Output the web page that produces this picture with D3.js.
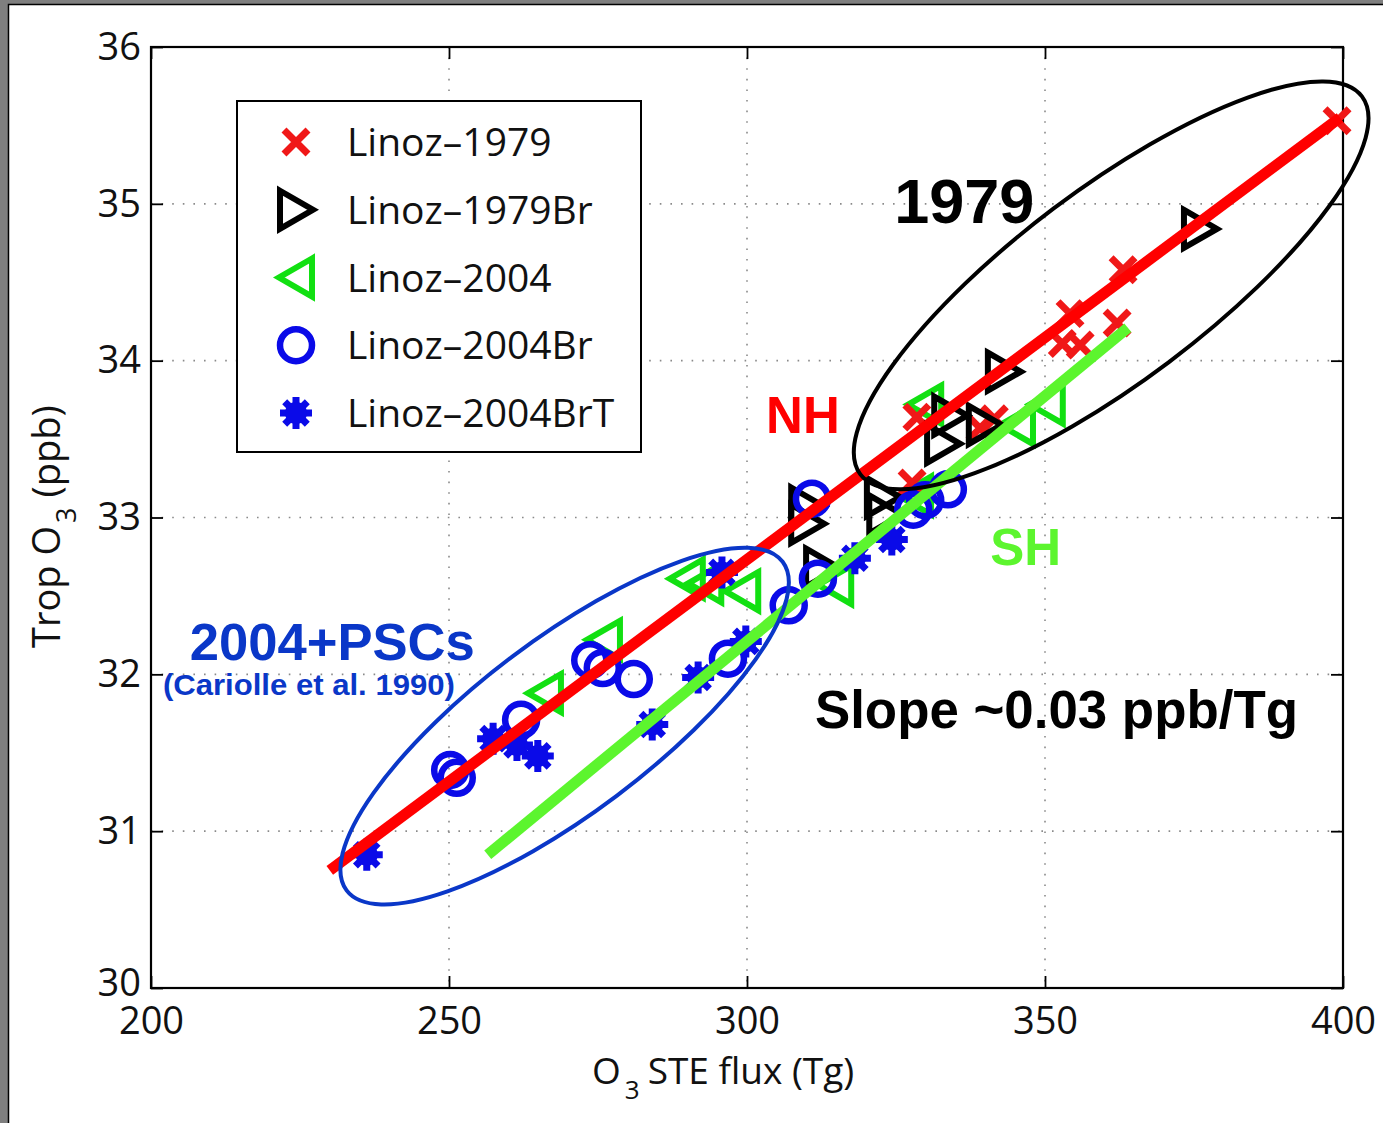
<!DOCTYPE html>
<html>
<head>
<meta charset="utf-8">
<script src="https://cdn.jsdelivr.net/npm/d3@7"></script>
<style>
  body { margin: 0; background: #fff; }
  svg { display: block; }
  .tick-label, .axis-label, .legend-text { font-family: 'Open Sans', sans-serif; fill: #111; }
  .note { font-family: 'Liberation Sans', Arial, sans-serif; font-weight: bold; }
</style>
</head>
<body>
<svg id="chart" width="1383" height="1123"></svg>
<script>
// tick values
var xTicks = [200, 250, 300, 350, 400];
var yTicks = [30, 31, 32, 33, 34, 35, 36];

// series, [STE flux (Tg), trop O3 (ppb)]
var linoz1979 = [[399.0, 35.53], [363.1, 34.58], [354.2, 34.30], [352.9, 34.11], [355.9, 34.10],
  [362.1, 34.24], [328.5, 33.64], [339.1, 33.57], [341.5, 33.63], [327.7, 33.22]];
var linoz1979Br = [[376.0, 34.84], [343.1, 33.93], [339.9, 33.59], [334.1, 33.65], [332.9, 33.47],
  [310.1, 33.07], [310.1, 32.96], [322.8, 33.13], [323.2, 33.02], [312.6, 32.68]];
var linoz2004 = [[289.9, 32.61], [293.0, 32.58], [299.2, 32.53], [276.0, 32.22], [266.1, 31.88],
  [329.9, 33.72], [345.3, 33.59], [350.3, 33.72], [328.2, 33.14], [314.8, 32.57]];
var linoz2004Br = [[250.2, 31.39], [251.3, 31.34], [262.1, 31.71], [273.7, 32.09], [275.8, 32.04],
  [281.0, 31.97], [296.8, 32.10], [307.0, 32.44], [310.9, 33.12], [311.9, 32.61],
  [327.9, 33.05], [333.7, 33.18], [329.9, 33.11]];
var linoz2004BrT = [[236.2, 30.85], [257.4, 31.59], [261.4, 31.55], [264.9, 31.48], [284.1, 31.68],
  [291.8, 31.98], [299.8, 32.21], [295.8, 32.65], [318.1, 32.74], [324.3, 32.86]];

// fitted lines
var nhFit = [[230.0, 30.75], [399.5, 35.55]];
var shFit = [[256.5, 30.85], [363.9, 34.21]];

// ellipse centres
var pscCentre = [269.4, 31.67];
var y1979Centre = [361.1, 34.48];

var seriesNames = ['Linoz\u20131979', 'Linoz\u20131979Br', 'Linoz\u20132004', 'Linoz\u20132004Br', 'Linoz\u20132004BrT'];

var series = [
  { name: seriesNames[2], data: linoz2004, shape: 'triLeft', color: '#12e012' },
  { name: seriesNames[0], data: linoz1979, shape: 'cross', color: '#f01818' },
  { name: seriesNames[1], data: linoz1979Br, shape: 'triRight', color: '#000' },
  { name: seriesNames[3], data: linoz2004Br, shape: 'circle', color: '#0a0ae8' },
  { name: seriesNames[4], data: linoz2004BrT, shape: 'star', color: '#0a0ae8' }
];
var legendOrder = [1, 2, 0, 3, 4];

var svg = d3.select('#chart');
var W = 1383, H = 1123;

// slide frame
svg.append('rect').attr('width', W).attr('height', H).attr('fill', '#7f7f7f');
svg.append('rect').attr('x', 8).attr('y', 4).attr('width', W - 8).attr('height', H - 4).attr('fill', '#fff');
svg.append('path').attr('d', 'M8.5,' + H + 'V4.5H' + W).attr('fill', 'none').attr('stroke', '#000').attr('stroke-width', 1.5);

var x = d3.scaleLinear().domain([200, 400]).range([151, 1343]);
var y = d3.scaleLinear().domain([30, 36]).range([988, 47]);

var plot = svg.append('g');

// dotted grid
plot.selectAll('line.gx').data(xTicks.slice(1, -1)).enter().append('line')
  .attr('class', 'gx')
  .attr('x1', function(d) { return x(d); }).attr('x2', function(d) { return x(d); })
  .attr('y1', y(36)).attr('y2', y(30))
  .attr('stroke', '#8a8a8a').attr('stroke-width', 1.6).attr('stroke-dasharray', '1.6,9');
plot.selectAll('line.gy').data(yTicks.slice(1, -1)).enter().append('line')
  .attr('class', 'gy')
  .attr('y1', function(d) { return y(d); }).attr('y2', function(d) { return y(d); })
  .attr('x1', x(200)).attr('x2', x(400))
  .attr('stroke', '#8a8a8a').attr('stroke-width', 1.6).attr('stroke-dasharray', '1.6,9');

// axes with inward ticks on all four sides
function axisStyle(g) {
  g.select('.domain').remove();
  g.selectAll('.tick line').attr('stroke', '#000').attr('stroke-width', 1.8);
}
plot.append('g').attr('transform', 'translate(0,' + y(30) + ')')
  .call(d3.axisBottom(x).tickValues(xTicks).tickSizeInner(-12).tickSizeOuter(0).tickPadding(19).tickFormat(d3.format('d')))
  .call(axisStyle)
  .selectAll('text').attr('class', 'tick-label').attr('font-size', 38).attr('fill', '#111');
plot.append('g').attr('transform', 'translate(0,' + y(36) + ')')
  .call(d3.axisTop(x).tickValues(xTicks).tickSizeInner(-12).tickSizeOuter(0).tickFormat(''))
  .call(axisStyle);
plot.append('g').attr('transform', 'translate(' + x(200) + ',0)')
  .call(d3.axisLeft(y).tickValues(yTicks).tickSizeInner(-12).tickSizeOuter(0).tickPadding(10).tickFormat(d3.format('d')))
  .call(axisStyle)
  .selectAll('text').attr('class', 'tick-label').attr('font-size', 38).attr('fill', '#111')
  .attr('dy', function(d) { return d === 30 ? '0.2em' : '0.32em'; });
plot.append('g').attr('transform', 'translate(' + x(400) + ',0)')
  .call(d3.axisRight(y).tickValues(yTicks).tickSizeInner(-12).tickSizeOuter(0).tickFormat(''))
  .call(axisStyle);

plot.append('rect')
  .attr('x', x(200)).attr('y', y(36))
  .attr('width', x(400) - x(200)).attr('height', y(30) - y(36))
  .attr('fill', 'none').attr('stroke', '#000').attr('stroke-width', 2.2);

// axis labels
var xl = svg.append('text').attr('class', 'axis-label').attr('font-size', 37)
  .attr('x', 592).attr('y', 1084);
xl.append('tspan').text('O');
xl.append('tspan').attr('font-size', 26).attr('dx', 4).attr('dy', 15).text('3');
xl.append('tspan').attr('dx', 8).attr('dy', -15).text('STE flux (Tg)');

var yl = svg.append('text').attr('class', 'axis-label').attr('font-size', 38)
  .attr('transform', 'translate(60,648) rotate(-90)');
yl.append('tspan').text('Trop O');
yl.append('tspan').attr('font-size', 27).attr('dx', 3).attr('dy', 16).text('3');
yl.append('tspan').attr('dx', 10).attr('dy', -16).text('(ppb)');

// marker drawing
function drawMarker(sel, shape, color) {
  if (shape === 'cross') {
    sel.append('path').attr('d', 'M-12,-12L12,12M-12,12L12,-12')
      .attr('stroke', color).attr('stroke-width', 7).attr('fill', 'none');
  } else if (shape === 'triRight') {
    sel.append('path').attr('d', 'M-16,-19L17,0L-16,19Z')
      .attr('stroke', color).attr('stroke-width', 6).attr('fill', 'none');
  } else if (shape === 'triLeft') {
    sel.append('path').attr('d', 'M16,-19L-17,0L16,19Z')
      .attr('stroke', color).attr('stroke-width', 6).attr('fill', 'none');
  } else if (shape === 'circle') {
    sel.append('circle').attr('r', 16)
      .attr('stroke', color).attr('stroke-width', 6.5).attr('fill', 'none');
  } else if (shape === 'star') {
    sel.append('path').attr('d', 'M-16,0L16,0M0,-16L0,16M-11.3,-11.3L11.3,11.3M-11.3,11.3L11.3,-11.3')
      .attr('stroke', color).attr('stroke-width', 7).attr('fill', 'none');
    sel.append('circle').attr('r', 11).attr('fill', color);
  }
}

series.forEach(function(s) {
  var g = plot.append('g').attr('class', 'series');
  g.selectAll('g.pt').data(s.data).enter().append('g')
    .attr('class', 'pt')
    .attr('transform', function(d) { return 'translate(' + x(d[0]) + ',' + y(d[1]) + ')'; })
    .each(function() { drawMarker(d3.select(this), s.shape, s.color); });
});

// fit lines
var line = d3.line().x(function(d) { return x(d[0]); }).y(function(d) { return y(d[1]); });
plot.append('path').datum(shFit).attr('d', line)
  .attr('stroke', '#5cf52e').attr('stroke-width', 11).attr('fill', 'none');
plot.append('path').datum(nhFit).attr('d', line)
  .attr('stroke', '#ff0000').attr('stroke-width', 11).attr('fill', 'none');

// ellipses
plot.append('ellipse')
  .attr('transform', 'translate(' + x(pscCentre[0]) + ',' + y(pscCentre[1]) + ') rotate(-37)')
  .attr('rx', 273).attr('ry', 87)
  .attr('fill', 'none').attr('stroke', '#0a37c8').attr('stroke-width', 4);
plot.append('ellipse')
  .attr('transform', 'translate(' + x(y1979Centre[0]) + ',' + y(y1979Centre[1]) + ') rotate(-37)')
  .attr('rx', 314).attr('ry', 96)
  .attr('fill', 'none').attr('stroke', '#000').attr('stroke-width', 4);

// annotations
function note(txt, at, size, color, len) {
  var t = svg.append('text').attr('class', 'note')
    .attr('x', x(at[0])).attr('y', y(at[1]))
    .attr('font-size', size).attr('fill', color)
    .text(txt);
  if (len) t.attr('textLength', len).attr('lengthAdjust', 'spacingAndGlyphs');
}
note('1979', [324.7, 34.88], 63, '#000');
note('NH', [303.2, 33.54], 51, '#ff0000');
note('SH', [340.8, 32.70], 51, '#5cf52e');
note('Slope ~0.03 ppb/Tg', [311.4, 31.66], 53, '#000', 483);
note('2004+PSCs', [206.5, 32.09], 51, '#0a37c8', 285);
note('(Cariolle et al. 1990)', [202.0, 31.87], 30, '#0a37c8', 292);

// legend
var legend = svg.append('g');
legend.append('rect').attr('x', 237).attr('y', 101).attr('width', 404).attr('height', 351)
  .attr('fill', '#fff').attr('stroke', '#000').attr('stroke-width', 2);
var rowY = d3.scalePoint().domain(d3.range(5)).range([142, 413]);
legendOrder.forEach(function(si, i) {
  var s = series[si];
  var row = legend.append('g').attr('transform', 'translate(0,' + rowY(i) + ')');
  var m = row.append('g').attr('transform', 'translate(296,0)');
  drawMarker(m, s.shape, s.color);
  row.append('text').attr('class', 'legend-text').attr('font-size', 39)
    .attr('x', 347).attr('y', 14).text(s.name);
});
</script>
</body>
</html>
